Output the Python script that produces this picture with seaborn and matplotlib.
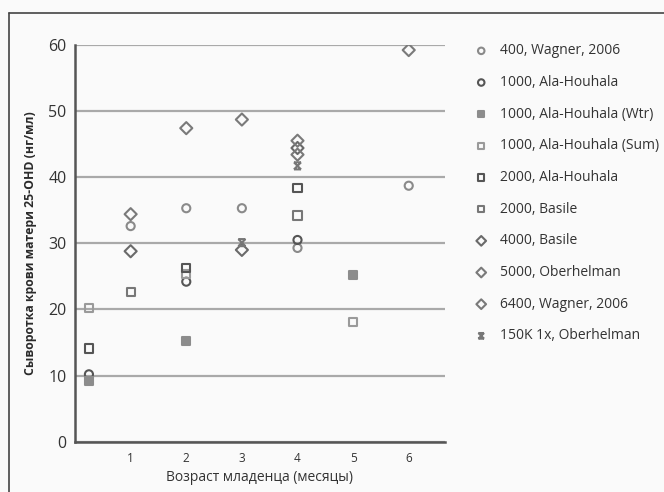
import numpy as np
import pandas as pd
import matplotlib
matplotlib.use('Agg')
import matplotlib.pyplot as plt
from matplotlib.path import Path
import seaborn as sns

### donnees
noms = ["400, Wagner, 2006", "1000, Ala-Houhala", "1000, Ala-Houhala (Wtr)",
        "1000, Ala-Houhala (Sum)", "2000, Ala-Houhala", "2000, Basile",
        "4000, Basile", "5000, Oberhelman", "6400, Wagner, 2006",
        "150K 1x, Oberhelman"]

mois_wagner400 = [1, 2, 3, 4, 6]
val_wagner400 = [32.6, 35.3, 35.3, 29.3, 38.7]
mois_ala1000 = [0.25, 2, 4]
val_ala1000 = [10.2, 24.2, 30.5]
mois_ala_wtr = [0.25, 2, 5]
val_ala_wtr = [9.2, 15.2, 25.2]
mois_ala_sum = [0.25, 2, 5]
val_ala_sum = [20.2, 25.3, 18.1]
mois_ala2000 = [0.25, 2, 4]
val_ala2000 = [14.1, 26.3, 38.4]
mois_basile2000 = [1, 4]
val_basile2000 = [22.6, 34.2]
mois_basile4000 = [1, 3, 4]
val_basile4000 = [28.8, 29.0, 44.4]
mois_ober5000 = [1, 3, 4]
val_ober5000 = [34.4, 48.7, 45.5]
mois_wagner6400 = [2, 4, 6]
val_wagner6400 = [47.4, 43.4, 59.2]
mois_ober150k = [3, 4]
val_ober150k = [30.1, 41.7]

# marqueur "x" avec barres (150K)
croix = Path([(-1, -1), (1, 1), (-1, 1), (1, -1), (-1, 1), (1, 1), (-1, -1), (1, -1)],
             [Path.MOVETO, Path.LINETO, Path.MOVETO, Path.LINETO,
              Path.MOVETO, Path.LINETO, Path.MOVETO, Path.LINETO])

FOND = '#fafafa'
series = [
    (mois_wagner400, val_wagner400, 'o', 'none', '#8a8a8a'),
    (mois_ala1000, val_ala1000, 'o', 'none', '#555555'),
    (mois_ala_wtr, val_ala_wtr, 's', '#8c8c8c', '#8c8c8c'),
    (mois_ala_sum, val_ala_sum, 's', 'none', '#9a9a9a'),
    (mois_ala2000, val_ala2000, 's', 'none', '#555555'),
    (mois_basile2000, val_basile2000, 's', 'none', '#777777'),
    (mois_basile4000, val_basile4000, 'D', 'none', '#6a6a6a'),
    (mois_ober5000, val_ober5000, 'D', 'none', '#7a7a7a'),
    (mois_wagner6400, val_wagner6400, 'D', 'none', '#7a7a7a'),
    (mois_ober150k, val_ober150k, croix, 'none', '#777777'),
]

sns.set_style('white')
plt.rcParams['font.family'] = ['Open Sans', 'DejaVu Sans']

fig = plt.figure(figsize=(6.64, 4.92), dpi=100, facecolor=FOND)
ax = fig.add_axes([0.113, 0.102, 0.557, 0.807])
ax.set_facecolor(FOND)

for nom, (xs, ys, mk, fc, ec) in zip(noms, series):
    df = pd.DataFrame({'mois': xs, 'val': ys})
    taille = 38 if mk == 'D' else (26 if mk is croix else 34)
    sns.scatterplot(data=df, x='mois', y='val', marker=mk, s=taille,
                    facecolor=fc, edgecolor=ec, linewidth=1.5,
                    label=nom, ax=ax, zorder=3)

ax.set_xlim(0, 6.65)
ax.set_ylim(0, 60)
ax.set_yticks(np.arange(0, 61, 10))
ax.set_xticks([1, 2, 3, 4, 5, 6])
ax.yaxis.grid(True, color='#a9a9a9', lw=1.6)
ax.xaxis.grid(False)
ax.set_axisbelow(True)
for c in ['top', 'right']:
    ax.spines[c].set_visible(False)
for c in ['left', 'bottom']:
    ax.spines[c].set_color('#555555')
    ax.spines[c].set_linewidth(1.8)
ax.tick_params(axis='x', direction='inout', length=10, width=1.5,
               color='#555555', labelsize=8.5, labelcolor='#333333', pad=2)
ax.tick_params(axis='y', length=0, labelsize=11.5, labelcolor='#333333', pad=6)

ax.set_xlabel("Возраст младенца (месяцы)", fontsize=10, color='#333333', labelpad=4)
ax.set_ylabel("Сыворотка крови матери 25-OHD (нг/мл)", fontsize=8.8,
              fontweight='bold', color='#2a2a2a', labelpad=8)

ax.legend_.remove()
poignees, etiquettes = ax.get_legend_handles_labels()
fig.legend(poignees, etiquettes, loc='upper left', bbox_to_anchor=(0.685, 0.937),
           frameon=False, fontsize=10, labelspacing=1.2, handletextpad=0.35,
           markerscale=0.8, labelcolor='#333333')

# cadre de l'image d'origine
fig.add_artist(plt.Line2D([9 / 664, 9 / 664], [0, 1 - 13 / 492], color='#444444', lw=1.2))
fig.add_artist(plt.Line2D([9 / 664, 1], [1 - 13 / 492, 1 - 13 / 492], color='#444444', lw=1.2))

plt.savefig("out.png", dpi=100, facecolor=FOND)
plt.close()
